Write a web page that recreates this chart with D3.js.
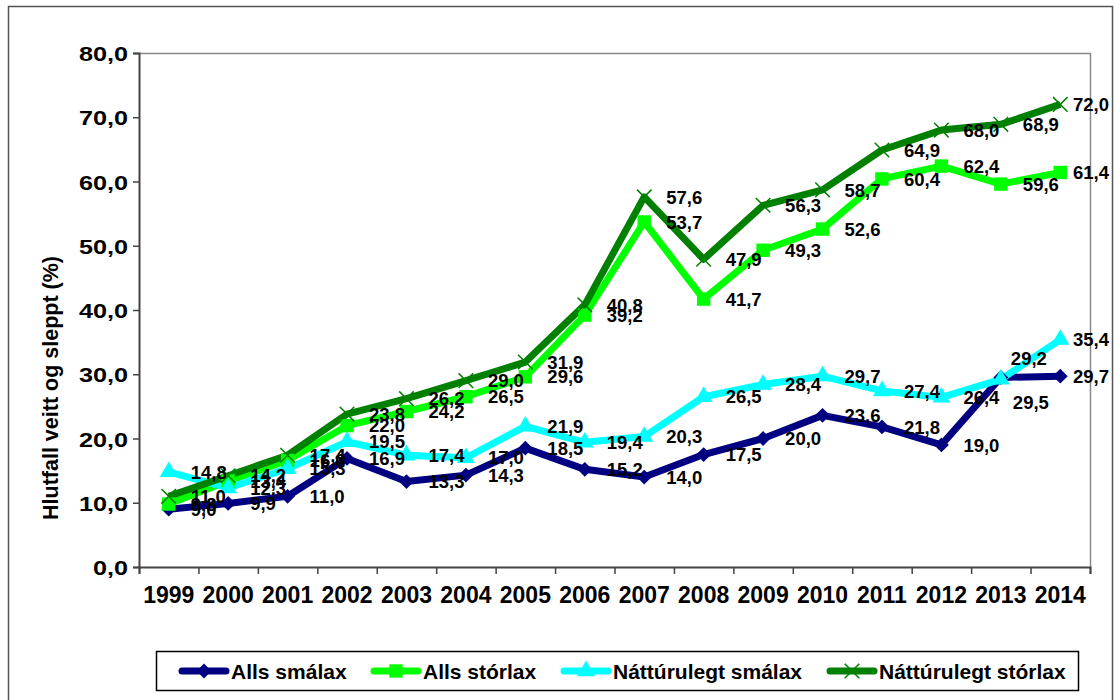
<!DOCTYPE html>
<html lang="is">
    <head>
        <meta charset="utf-8">
        <title>Hlutfall veitt og sleppt</title>
        <style type="text/css">
            body { margin: 0; background: #fff; }
            text { font-family: Arial, "Liberation Sans", sans-serif; font-weight: bold; }
        </style>
    </head>
    <body>

<script src="https://d3js.org/d3.v7.min.js"></script>

<script>

    // data
    var years = ["1999","2000","2001","2002","2003","2004","2005","2006","2007","2008","2009","2010","2011","2012","2013","2014"];
    var seriesNames = ["Alls smálax", "Alls stórlax", "Náttúrulegt smálax", "Náttúrulegt stórlax"];
    var allsSmalax = [9.0, 9.9, 11.0, 16.9, 13.3, 14.3, 18.5, 15.2, 14.0, 17.5, 20.0, 23.6, 21.8, 19.0, 29.5, 29.7];
    var allsStorlax = [9.8, 13.4, 16.6, 22.0, 24.2, 26.5, 29.6, 39.2, 53.7, 41.7, 49.3, 52.6, 60.4, 62.4, 59.6, 61.4];
    var natSmalax = [14.8, 12.3, 15.3, 19.5, 17.4, 17.0, 21.9, 19.4, 20.3, 26.5, 28.4, 29.7, 27.4, 26.4, 29.2, 35.4];
    var natStorlax = [11.0, 14.2, 17.4, 23.8, 26.2, 29.0, 31.9, 40.8, 57.6, 47.9, 56.3, 58.7, 64.9, 68.0, 68.9, 72.0];
    var yTicks = [0, 10, 20, 30, 40, 50, 60, 70, 80];

    var w = 1115;
    var h = 700;
    var plotL = 139, plotR = 1090, plotT = 53, plotB = 567;

    var colors = ["#000080", "#00ff00", "#00ffff", "#008000"];
    var values = [allsSmalax, allsStorlax, natSmalax, natStorlax];

    // manual label nudges (series index, year index, dx, dy)
    var nudges = [[0, 14, -10, 25], [2, 14, -12, -21]];

    var comma = function(v) { return d3.format(".1f")(v).replace(".", ","); };

    var svg = d3.select("body")
            .append("svg")
            .attr("width", w)
            .attr("height", h);

    // chart border
    svg.append("rect")
        .attr("x", 8.5).attr("y", 6.5)
        .attr("width", 1104).attr("height", 720)
        .attr("fill", "none")
        .attr("stroke", "#555")
        .attr("stroke-width", 1.5);

    var x = d3.scaleBand().domain(years).range([plotL, plotR]);
    var xEdge = d3.scaleLinear().domain([0, years.length]).range([plotL, plotR]);
    var y = d3.scaleLinear().domain([0, 80]).range([plotB, plotT]);

    // plot area frame (top and right)
    svg.append("path")
        .attr("d", "M" + plotL + "," + (plotT + 0.5) + "H" + (plotR + 0.5) + "V" + plotB)
        .attr("fill", "none")
        .attr("stroke", "#888")
        .attr("stroke-width", 1.5);

    // y axis
    var yAxis = svg.append("g")
        .attr("transform", "translate(" + plotL + ",0)")
        .call(d3.axisLeft(y).tickValues(yTicks).tickSize(6).tickFormat(comma));
    yAxis.select(".domain").attr("stroke", "#444").attr("stroke-width", 2);
    yAxis.selectAll(".tick line").attr("stroke", "#444").attr("stroke-width", 1.5);
    yAxis.selectAll(".tick text")
        .attr("x", 0)
        .attr("dy", "0.36em")
        .attr("transform", "translate(-11,0) scale(1.2,1)")
        .attr("font-size", 21)
        .attr("fill", "#000");

    // x axis: ticks between categories, labels at centres
    var xTicks = svg.append("g")
        .attr("transform", "translate(0," + plotB + ")")
        .call(d3.axisBottom(xEdge).ticks(years.length).tickSize(7).tickFormat(""));
    xTicks.select(".domain").attr("stroke", "#444").attr("stroke-width", 2);
    xTicks.selectAll(".tick line").attr("stroke", "#444").attr("stroke-width", 1.5);

    var xLabels = svg.append("g")
        .attr("transform", "translate(0," + plotB + ")")
        .call(d3.axisBottom(x).tickSize(0).tickPadding(20));
    xLabels.select(".domain").remove();
    xLabels.selectAll("text").attr("font-size", 23).attr("fill", "#000");

    // y title
    svg.append("text")
        .attr("transform", "translate(58,388) rotate(-90)")
        .attr("text-anchor", "middle")
        .attr("font-size", 21.5)
        .text("Hlutfall veitt og sleppt (%)");

    var line = d3.line()
        .x(function(d, i) { return x(years[i]) + x.bandwidth() / 2; })
        .y(function(d) { return y(d); });

    // lines first
    values.forEach(function(vals, s) {
        svg.append("path")
            .datum(vals)
            .attr("d", line)
            .attr("fill", "none")
            .attr("stroke", colors[s])
            .attr("stroke-width", 7)
            .attr("stroke-linejoin", "round");
    });

    var markerPath = function(s) {
        if (s == 0) return d3.symbol().type(d3.symbolSquare).size(110)();
        if (s == 1) return d3.symbol().type(d3.symbolSquare).size(180)();
        if (s == 2) return d3.symbol().type(d3.symbolTriangle).size(140)();
        return d3.symbol().type(d3.symbolX).size(140)();
    };
    var markerRotate = function(s) { return s == 0 ? " rotate(45)" : ""; };

    // markers
    values.forEach(function(vals, s) {
        svg.append("g").selectAll("path")
            .data(vals)
            .enter()
            .append("path")
            .attr("d", markerPath(s))
            .attr("transform", function(d, i) {
                return "translate(" + (x(years[i]) + x.bandwidth() / 2) + "," + y(d) + ")" + markerRotate(s);
            })
            .attr("fill", s == 3 ? "none" : colors[s])
            .attr("stroke", s == 3 ? colors[s] : "none")
            .attr("stroke-width", 1.5);
    });

    // data labels to the right of each point
    values.forEach(function(vals, s) {
        svg.append("g").selectAll("text")
            .data(vals)
            .enter()
            .append("text")
            .attr("x", function(d, i) {
                var lx = x(years[i]) + x.bandwidth() / 2 + 22;
                nudges.forEach(function(n) { if (n[0] == s && n[1] == i) lx += n[2]; });
                return Math.min(lx, 1073);
            })
            .attr("y", function(d, i) {
                var ly = y(d);
                nudges.forEach(function(n) { if (n[0] == s && n[1] == i) ly += n[3]; });
                return ly;
            })
            .attr("dy", "0.36em")
            .attr("font-size", 18.5)
            .attr("fill", "#000")
            .text(comma);
    });

    // legend
    var legend = svg.append("g");
    legend.append("rect")
        .attr("x", 156.5).attr("y", 651.5)
        .attr("width", 922).attr("height", 39)
        .attr("fill", "#fff")
        .attr("stroke", "#000")
        .attr("stroke-width", 1.5);

    var legX = [179, 371, 561, 827];
    seriesNames.forEach(function(name, s) {
        var g = legend.append("g").attr("transform", "translate(" + legX[s] + ",671)");
        g.append("line")
            .attr("x1", 3).attr("x2", 47)
            .attr("stroke", colors[s])
            .attr("stroke-width", 7)
            .attr("stroke-linecap", "round");
        g.append("path")
            .attr("d", markerPath(s))
            .attr("transform", "translate(25,0)" + markerRotate(s))
            .attr("fill", s == 3 ? "none" : colors[s])
            .attr("stroke", s == 3 ? colors[s] : "none")
            .attr("stroke-width", 1.5);
        g.append("text")
            .attr("x", 52)
            .attr("dy", "0.36em")
            .attr("font-size", 21)
            .text(name);
    });

</script>

    </body>
</html>
